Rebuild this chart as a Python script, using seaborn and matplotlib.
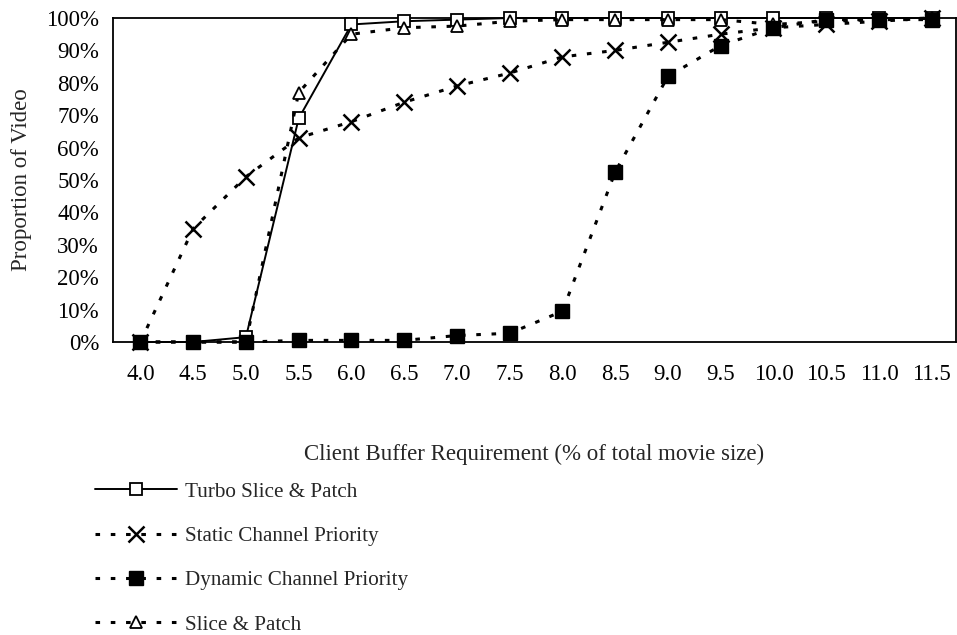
import matplotlib
matplotlib.use("Agg")
import matplotlib.pyplot as plt
import seaborn as sns
import numpy as np
import pandas as pd

buffer_pct = [4.0, 4.5, 5.0, 5.5, 6.0, 6.5, 7.0, 7.5, 8.0, 8.5, 9.0, 9.5, 10.0, 10.5, 11.0, 11.5]
tick_labels = ["4.0", "4.5", "5.0", "5.5", "6.0", "6.5", "7.0", "7.5", "8.0", "8.5", "9.0", "9.5", "10.0", "10.5", "11.0", "11.5"]

turbo = [0, 0, 1.5, 69, 98, 99, 99.5, 100, 100, 100, 100, 100, 100, 100, 100, 100]
static = [0, 35, 51, 63, 68, 74, 79, 83, 88, 90, 92.5, 95, 97, 98, 99, 100]
dynamic = [0, 0, 0, 0.5, 0.5, 0.5, 2, 2.7, 9.5, 52.5, 82, 91.5, 97, 99.5, 99.5, 99.5]
slice_patch = [0, 0, 0, 77, 95, 97, 97.5, 99, 99.5, 99.5, 99.5, 99.5, 98, 99, 99.5, 100]

series_names = ["Turbo Slice & Patch", "Static Channel Priority", "Dynamic Channel Priority", "Slice & Patch"]

sns.set_theme(style="white")
plt.rcParams['font.family'] = ['Liberation Serif', 'DejaVu Serif']

fig = plt.figure(figsize=(9.57, 6.35), dpi=100)
ax = fig.add_axes([113/957, 1 - 342/635, (956 - 113)/957, (342 - 18)/635])

dots = (0, (1.5, 3.5))
styles = {
    "Turbo Slice & Patch": dict(data=turbo, ls="-", lw=1.4, marker="s", ms=8, mfc="white", mec="black", mew=1.3),
    "Static Channel Priority": dict(data=static, ls=dots, lw=2.2, marker="x", ms=11, mfc="black", mec="black", mew=1.8),
    "Slice & Patch": dict(data=slice_patch, ls=dots, lw=2.2, marker="^", ms=9, mfc="white", mec="black", mew=1.3),
    "Dynamic Channel Priority": dict(data=dynamic, ls=dots, lw=2.2, marker="s", ms=10, mfc="black", mec="black", mew=1.0),
}

handles = {}
for name in ["Turbo Slice & Patch", "Static Channel Priority", "Slice & Patch", "Dynamic Channel Priority"]:
    st = styles[name]
    df = pd.DataFrame({"x": buffer_pct, "y": st["data"]})
    sns.lineplot(data=df, x="x", y="y", ax=ax, color="black", linestyle=st["ls"], linewidth=st["lw"],
                 marker=st["marker"], markersize=st["ms"], markerfacecolor=st["mfc"],
                 markeredgecolor=st["mec"], markeredgewidth=st["mew"], label=name, clip_on=False, zorder=3)
    handles[name] = ax.get_lines()[-1]

ax.set_xlim(3.74, 11.73)
ax.set_ylim(0, 100)
ax.set_xticks(buffer_pct)
ax.set_xticklabels(tick_labels)
ax.set_yticks(range(0, 101, 10))
ax.set_yticklabels([f"{v}%" for v in range(0, 101, 10)])
ax.tick_params(axis="both", direction="in", length=5, width=1, labelsize=16.5, colors="black")
ax.tick_params(axis="x", pad=16)
ax.tick_params(axis="y", pad=10)
for sp in ax.spines.values():
    sp.set_color("black")
    sp.set_linewidth(1.3)
ax.set_xlabel("Client Buffer Requirement (% of total movie size)", fontsize=16.5, labelpad=42)
ax.set_ylabel("Proportion of Video", fontsize=16.5, labelpad=10)
ax.get_legend().remove()

order = ["Turbo Slice & Patch", "Static Channel Priority", "Dynamic Channel Priority", "Slice & Patch"]
fig.legend([handles[n] for n in order], order, loc="upper left", bbox_to_anchor=(95/957, 1 - 482/635),
           frameon=False, fontsize=15.2, handlelength=3.9, labelspacing=1.16, handletextpad=0.38,
           borderaxespad=0, borderpad=0)

fig.savefig("out.png", dpi=100, facecolor="white")
